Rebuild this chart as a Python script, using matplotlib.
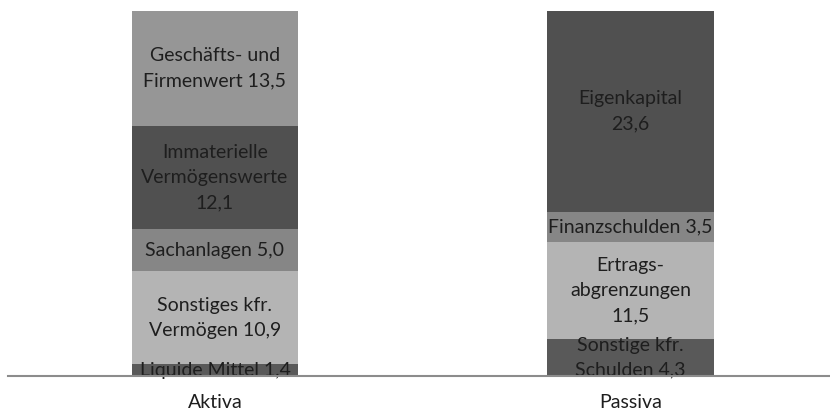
"""Bilanzstruktur: Aktiva und Passiva als gestapelte Säulen."""

import matplotlib

matplotlib.use("Agg")
import matplotlib.pyplot as plt

plt.rcParams["font.family"] = ["Lato", "DejaVu Sans"]

CATEGORIES = ["Aktiva", "Passiva"]

# segments from bottom to top
AKTIVA_LABELS = [
    "Liquide Mittel",
    "Sonstiges kfr.\nVermögen",
    "Sachanlagen",
    "Immaterielle\nVermögenswerte\n",
    "Geschäfts- und\nFirmenwert",
]
AKTIVA_VALUES = [1.4, 10.9, 5.0, 12.1, 13.5]
AKTIVA_COLORS = ["#595959", "#b4b4b4", "#868686", "#505050", "#969696"]

PASSIVA_LABELS = [
    "Sonstige kfr.\nSchulden",
    "Ertrags-\nabgrenzungen\n",
    "Finanzschulden",
    "Eigenkapital\n",
]
PASSIVA_VALUES = [4.3, 11.5, 3.5, 23.6]
PASSIVA_COLORS = ["#595959", "#b4b4b4", "#868686", "#505050"]

TEXT = "#1e1e1e"
BAR_WIDTH = 0.4


def fmt(v):
    return f"{v:.1f}".replace(".", ",")


def stack(ax, x, labels, values, colors):
    bottom = 0.0
    for label, value, color in zip(labels, values, colors):
        ax.bar(x, value, bottom=bottom, width=BAR_WIDTH, color=color, linewidth=0)
        sep = "" if label.endswith("\n") else " "
        ax.text(x, bottom + value / 2, f"{label}{sep}{fmt(value)}",
                ha="center", va="center", fontsize=14, color=TEXT,
                linespacing=1.58)
        bottom += value


fig = plt.figure(figsize=(8.30, 4.11), dpi=100)
ax = fig.add_axes([8 / 830, 35 / 411, 822 / 830, 365 / 411])

stack(ax, 0, AKTIVA_LABELS, AKTIVA_VALUES, AKTIVA_COLORS)
stack(ax, 1, PASSIVA_LABELS, PASSIVA_VALUES, PASSIVA_COLORS)

ax.set_xlim(-0.498, 1.48)
ax.set_ylim(0, sum(AKTIVA_VALUES))

for side in ("top", "right", "left"):
    ax.spines[side].set_visible(False)
ax.spines["bottom"].set_color("#8c8c8c")
ax.spines["bottom"].set_linewidth(1.5)
ax.spines["bottom"].set_zorder(3)

ax.set_yticks([])
ax.set_xticks([0, 1])
ax.set_xticklabels(CATEGORIES, fontsize=14, color=TEXT)
ax.tick_params(axis="x", length=0, pad=13)

fig.savefig("out.png", dpi=100)
